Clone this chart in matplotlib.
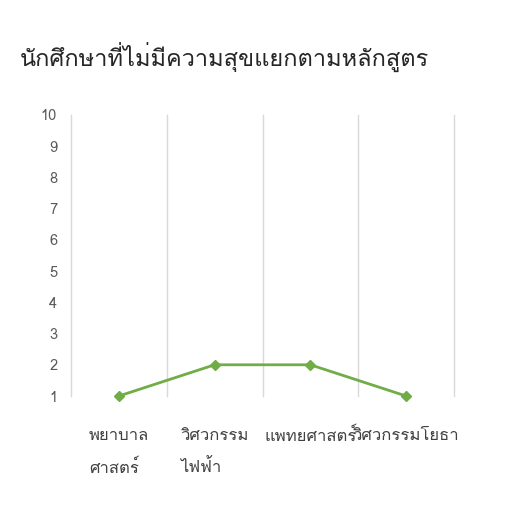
import matplotlib
matplotlib.use("Agg")
import matplotlib.pyplot as plt
from matplotlib import font_manager
from matplotlib.ft2font import FT2Font

# categories (courses) and the count of unhappy students
categories = ["พยาบาล\nศาสตร์", "วิศวกรรม\nไฟฟ้า", "แพทยศาสตร์", "วิศวกรรมโยธา"]
values = [1, 2, 2, 1]
y_ticks = list(range(1, 11))
title = "นักศึกษาที่ไม่มีความสุขแยกตามหลักสูตร"


# find a font that has Thai glyphs
def thai_fonts():
    names = []
    for f in font_manager.fontManager.ttflist:
        try:
            cmap = FT2Font(f.fname).get_charmap()
        except Exception:
            continue
        if 0x0E01 in cmap and f.name not in names:
            names.append(f.name)
    return names


fams = thai_fonts()
plt.rcParams['font.family'] = fams + ['DejaVu Sans']

fig = plt.figure(figsize=(5.12, 5.18), dpi=100)
ax = fig.add_axes([0.1387, 0.2355, 0.748, 0.5425])

x = list(range(len(categories)))
ax.plot(x, values, color='#70AD47', linewidth=2, marker='D', markersize=5,
        clip_on=False, zorder=3)

ax.set_xlim(-0.5, len(categories) - 0.5)
ax.set_ylim(1, 10)
ax.set_yticks(y_ticks)
ax.set_xticks(x)
ax.set_xticklabels(categories, fontsize=12, color='#404040',
                   linespacing=2.15, multialignment='left')
ax.set_xticks([i - 0.5 for i in range(len(categories) + 1)], minor=True)
ax.grid(True, which='minor', axis='x', color='#D9D9D9', linewidth=1)
ax.grid(False, which='major')
for t in ax.xaxis.get_minor_ticks():
    t.gridline.set_clip_on(False)
ax.tick_params(axis='x', which='both', length=0, pad=23)
ax.tick_params(axis='y', length=0, labelsize=10.5, labelcolor='#595959', pad=10)
for s in ax.spines.values():
    s.set_visible(False)

fig.text(0.039, 0.89, title, fontsize=17, color='#262626', va='center')

fig.savefig('out.png', dpi=100)
